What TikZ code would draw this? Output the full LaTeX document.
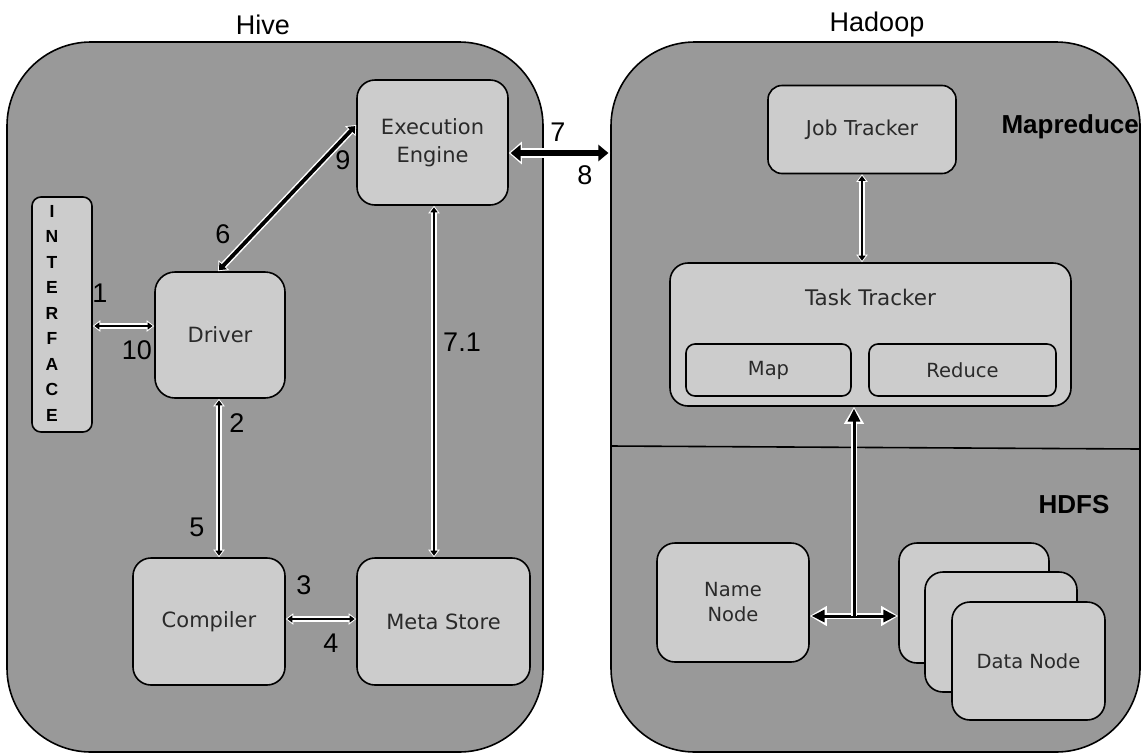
\documentclass[tikz,border=0pt]{standalone}
\usepackage{fontspec}
\setmainfont{Liberation Sans}
\newfontfamily\boxfont{DejaVu Sans}
\usetikzlibrary{arrows.meta,calc}
\definecolor{outerg}{HTML}{999999}
\definecolor{innerg}{HTML}{CCCCCC}
\definecolor{txtg}{HTML}{2A2A2A}
\begin{document}
\begin{tikzpicture}[x=1pt,y=-1pt,
  container/.style={draw=black, line width=1.6pt, fill=outerg, rounded corners=84pt, inner sep=0pt},
  box/.style={draw=black, line width=1.6pt, fill=innerg, rounded corners=18pt, inner sep=0pt, text=txtg, font=\boxfont\fontsize{21}{28}\selectfont, align=center},
  smallbox/.style={box, font=\boxfont\fontsize{19.5}{25}\selectfont},
  num/.style={font=\fontsize{27}{30}\selectfont, inner sep=0pt},
  titletext/.style={font=\fontsize{27}{30}\selectfont, inner sep=0pt},
  sectiontext/.style={font=\bfseries\fontsize{26}{30}\selectfont, inner sep=0pt},
  thinW/.style={draw=white, line width=5.4pt, {Triangle[length=7.5pt,width=11pt]}-{Triangle[length=7.5pt,width=11pt]}},
  thinB/.style={draw=black, line width=2.3pt, shorten <=1.5pt, shorten >=1.5pt, {Triangle[length=5pt,width=7pt]}-{Triangle[length=5pt,width=7pt]}},
  thickW/.style={draw=white, line width=6.8pt, {Triangle[length=8.5pt,width=14pt]}-{Triangle[length=8.5pt,width=14pt]}},
  thickB/.style={draw=black, line width=3.8pt, shorten <=1.5pt, shorten >=1.5pt, {Triangle[length=6pt,width=10pt]}-{Triangle[length=6pt,width=10pt]}},
  hugeW/.style={draw=white, line width=9.5pt, {Triangle[length=13pt,width=22pt]}-{Triangle[length=13pt,width=22pt]}},
  hugeB/.style={draw=black, line width=6.5pt, shorten <=1.8pt, shorten >=1.8pt, {Triangle[length=10pt,width=16pt]}-{Triangle[length=10pt,width=16pt]}},
  medW/.style={draw=white, line width=6pt, {Triangle[length=17pt,width=19pt]}-{Triangle[length=17pt,width=19pt]}},
  medB/.style={draw=black, line width=3pt, shorten <=1.8pt, shorten >=1.8pt, {Triangle[length=13pt,width=12pt]}-{Triangle[length=13pt,width=12pt]}},
  medWup/.style={draw=white, line width=6pt, -{Triangle[length=17pt,width=19pt]}},
  medBup/.style={draw=black, line width=3pt, shorten >=1.8pt, -{Triangle[length=13pt,width=12pt]}},
]
\useasboundingbox[fill=white] (0,0) rectangle (1143,753);

% containers
\node[container, minimum width=536pt, minimum height=710pt] (hive) at (275,397) {};
\node[container, minimum width=529pt, minimum height=710pt] (hadoop) at (875.5,397) {};
\node[titletext] (hivet) at (263,25) {Hive};
\node[titletext] (hadoopt) at (877,25) {Hadoop};

% Hive boxes
\node[box, rounded corners=9pt, minimum width=60pt, minimum height=235pt] (iface) at (62,314.5) {};
\node[font=\bfseries\fontsize{17.5}{25.5}\selectfont, align=center, inner sep=0pt] (ifacet) at (52,313) {I\\N\\T\\E\\R\\F\\A\\C\\E};
\node[box, rounded corners=20pt, minimum width=130pt, minimum height=126pt] (drv) at (220,335) {Driver};
\node[box, minimum width=151pt, minimum height=125pt] (exe) at (432.5,142.5) {Execution\\Engine};
\node[box, minimum width=152pt, minimum height=127pt] (comp) at (209,621.5) {Compiler};
\node[box, minimum width=173pt, minimum height=127pt] (meta) at (443.5,621.5) {Meta Store};

% Hadoop boxes
\node[box, rounded corners=14pt, minimum width=188pt, minimum height=88pt, font=\boxfont\fontsize{20.5}{25}\selectfont] (job) at (862,129.5) {Job Tracker};
\node[box, minimum width=401pt, minimum height=143pt] (task) at (870.5,334.5) {};
\node[txtg, font=\boxfont\fontsize{21.5}{25}\selectfont, inner sep=0pt] (taskt) at (870.5,297) {Task Tracker};
\node[smallbox, rounded corners=9pt, minimum width=165pt, minimum height=52pt] (map) at (768.5,370) {Map};
\node[smallbox, rounded corners=9pt, minimum width=187pt, minimum height=52pt] (red) at (962.5,370) {Reduce};
\node[sectiontext, anchor=east] (mapred) at (1139,127) {Mapreduce};
\draw[line width=1.6pt] (hadoop.west |- 0,446) -- (hadoop.east |- 0,449);
\node[sectiontext] (hdfs) at (1074,505) {HDFS};
\node[smallbox, minimum width=152pt, minimum height=119pt] (name) at (733,602.5) {Name\\Node};
\node[smallbox, minimum width=150pt, minimum height=120pt] (data1) at (974,603) {};
\node[smallbox, minimum width=152pt, minimum height=120pt] (data2) at (1001,632) {};
\node[smallbox, minimum width=153pt, minimum height=118pt] (data3) at (1028.5,661) {Data Node};

% connectors
\draw[thinW] (iface.east |- 0,326) -- (drv.west |- 0,326);
\draw[thinB] (iface.east |- 0,326) -- (drv.west |- 0,326);
\draw[thinW] (219,0 |- drv.south) -- (219,0 |- comp.north);
\draw[thinB] (219,0 |- drv.south) -- (219,0 |- comp.north);
\draw[thinW] (comp.east |- 0,619) -- (meta.west |- 0,619);
\draw[thinB] (comp.east |- 0,619) -- (meta.west |- 0,619);
\draw[thinW] (434,0 |- exe.south) -- (434,0 |- meta.north);
\draw[thinB] (434,0 |- exe.south) -- (434,0 |- meta.north);
\draw[thickW] (218,0 |- drv.north) -- (exe.west |- 0,125);
\draw[thickB] (218,0 |- drv.north) -- (exe.west |- 0,125);
\draw[hugeW] (exe.east |- 0,153) -- (hadoop.west |- 0,153);
\draw[hugeB] (exe.east |- 0,153) -- (hadoop.west |- 0,153);
\draw[thinW] (job.south) -- (job.south |- task.north);
\draw[thinB] (job.south) -- (job.south |- task.north);
\draw[medW] (name.east |- 0,616) -- (data1.west |- 0,616);
\draw[medB] (name.east |- 0,616) -- (data1.west |- 0,616);
\draw[medWup] (854,616) -- (854,0 |- task.south);
\draw[medBup] (854,616) -- (854,0 |- task.south);

% step labels
\node[num] (l1) at (100,293) {1};
\node[num] (l10) at (137,350) {10};
\node[num] (l6) at (223,234) {6};
\node[num] (l9) at (343,160) {9};
\node[num] (l7) at (558,132) {7};
\node[num] (l8) at (585,175) {8};
\node[num] (l2) at (237,423) {2};
\node[num] (l5) at (197,527) {5};
\node[num] (l3) at (304,585) {3};
\node[num] (l4) at (331,643) {4};
\node[num] (l71) at (462,342) {7.1};
\end{tikzpicture}
\end{document}
